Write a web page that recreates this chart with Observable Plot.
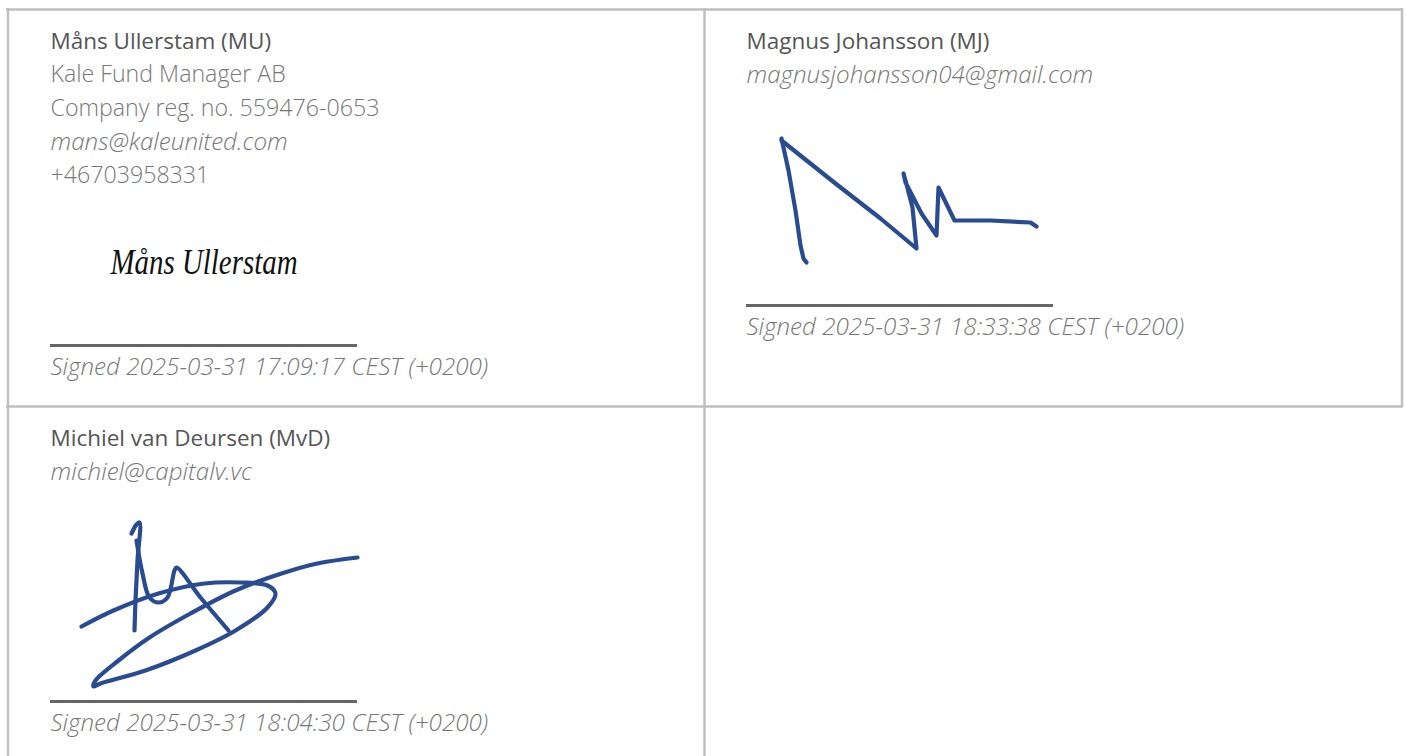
<!DOCTYPE html>
<html>
<head>
<meta charset="utf-8">
<script src="https://cdn.jsdelivr.net/npm/d3@7"></script>
<script src="https://cdn.jsdelivr.net/npm/@observablehq/plot@0.6"></script>
<style>
  html, body { margin: 0; padding: 0; background: #fff; }
  #chart svg { display: block; }
</style>
</head>
<body>
<div id="chart"></div>
<script>
// ---------- data ----------
const signerNames = ["Måns Ullerstam (MU)", "Magnus Johansson (MJ)", "Michiel van Deursen (MvD)"];
const signerCompanies = ["Kale Fund Manager AB", null, null];
const signerRegNos = ["Company reg. no. 559476-0653", null, null];
const signerEmails = ["mans@kaleunited.com", "magnusjohansson04@gmail.com", "michiel@capitalv.vc"];
const signerPhones = ["+46703958331", null, null];
const signedTimes = [
  "Signed 2025-03-31 17:09:17 CEST (+0200)",
  "Signed 2025-03-31 18:33:38 CEST (+0200)",
  "Signed 2025-03-31 18:04:30 CEST (+0200)"
];
const typedSignature = "Måns Ullerstam";

// hand-drawn signature strokes (page pixel coordinates)
const mjStrokes = [
  {id: "mj1", pts: [[781,138],[788,170],[795,210],[800,245],[803,258],[806,262]]},
  {id: "mj2", pts: [[781,140],[835,183],[880,218],[916,248],[912,207],[905,180],[903,173],[905,182],[921,213],[936,235],[938,187],[954,220],[990,220],[1030,222],[1036,226]]}
];
const mvdStrokes = [
  {id: "mv1", pts: [[131,533],[136,524],[139,522],[137,560],[135,600],[134,630]]},
  {id: "mv2", pts: [[136,540],[142,573],[149,597],[158,602],[167,597],[174,570],[176,567],[200,597],[228,630]]},
  {id: "mv3", pts: [[81,626],[113,610],[158,593],[204,583],[240,582],[267,585],[275,593],[267,607],[235,630],[195,650],[145,670],[100,683],[93,686],[95,680],[118,660],[149,637],[190,613],[235,590],[281,573],[317,563],[357,557]]}
];

// ---------- layout ----------
const W = 1406, H = 756;
const cellOrigins = [[50, 41], [746, 41], [50, 438]];
const lineGap = 33.5;
const sigLineOffsets = [304, 264, 263];
const sigLineLen = 307;
const border = "#bfbfc3";
const ink = "#294b91";
const typedSigBox = {x: 110, y: 262, width: 187};

const gridH = [{y: 9, x1: 6, x2: 1403}, {y: 406, x1: 6, x2: 1403}];
const gridV = [{x: 7.5, y1: 8, y2: 756}, {x: 704, y1: 8, y2: 756}, {x: 1401.5, y1: 8, y2: 407}];

// build text rows from the arrays
const rows = [];
signerNames.forEach((n, i) => {
  const [x0, y0] = cellOrigins[i];
  const fields = [
    {t: n, kind: "name"},
    {t: signerCompanies[i], kind: "plain"},
    {t: signerRegNos[i], kind: "plain"},
    {t: signerEmails[i], kind: "italic"},
    {t: signerPhones[i], kind: "plain"}
  ].filter(f => f.t);
  fields.forEach((f, k) => rows.push({x: x0, y: y0 + k * lineGap, text: f.t, kind: f.kind}));
  rows.push({x: x0, y: y0 + sigLineOffsets[i] + 22, text: signedTimes[i], kind: "italic"});
});
const sigLines = signerNames.map((n, i) => ({
  x1: cellOrigins[i][0], x2: cellOrigins[i][0] + sigLineLen, y: cellOrigins[i][1] + sigLineOffsets[i]
}));
const flatten = strokes => strokes.flatMap(s => s.pts.map(([x, y]) => ({id: s.id, x, y})));

const font = "'Open Sans', sans-serif";

const plot = Plot.plot({
  width: W, height: H,
  margin: 0,
  x: {domain: [0, W], axis: null},
  y: {domain: [H, 0], axis: null},
  style: {fontFamily: font, background: "#fff"},
  marks: [
    Plot.ruleY(gridH, {y: "y", x1: "x1", x2: "x2", stroke: border, strokeWidth: 2.5}),
    Plot.ruleX(gridV, {x: "x", y1: "y1", y2: "y2", stroke: border, strokeWidth: 2.5}),
    Plot.ruleY(sigLines, {y: "y", x1: "x1", x2: "x2", stroke: "#666", strokeWidth: 3}),
    Plot.text(rows.filter(r => r.kind === "name"), {x: "x", y: "y", text: "text", textAnchor: "start", fontSize: 22.5, fontWeight: 400, fill: "#555", lineAnchor: "middle"}),
    Plot.text(rows.filter(r => r.kind === "plain"), {x: "x", y: "y", text: "text", textAnchor: "start", fontSize: 23.2, fontWeight: 300, fill: "#777", lineAnchor: "middle"}),
    Plot.text(rows.filter(r => r.kind === "italic"), {x: "x", y: "y", text: "text", textAnchor: "start", fontSize: 24.2, fontWeight: 300, fontStyle: "italic", fill: "#777", lineAnchor: "middle"}),
    Plot.text([typedSignature], {x: typedSigBox.x, y: typedSigBox.y, text: d => d, textAnchor: "start", fontSize: 36, fontStyle: "italic", fontFamily: "'Liberation Serif', serif", fill: "#111", lineAnchor: "middle"}),
    Plot.line(flatten(mjStrokes), {x: "x", y: "y", z: "id", stroke: ink, strokeWidth: 4.2, strokeLinecap: "round", strokeLinejoin: "round"}),
    Plot.line(flatten(mvdStrokes), {x: "x", y: "y", z: "id", stroke: ink, strokeWidth: 4.2, curve: "catmull-rom", strokeLinecap: "round", strokeLinejoin: "round"})
  ]
});
document.getElementById("chart").appendChild(plot);

// squeeze the typed signature into its box, script-like
d3.select(plot).selectAll("text").filter(function () { return this.textContent === typedSignature; })
  .attr("textLength", typedSigBox.width)
  .attr("lengthAdjust", "spacingAndGlyphs");
</script>
</body>
</html>
